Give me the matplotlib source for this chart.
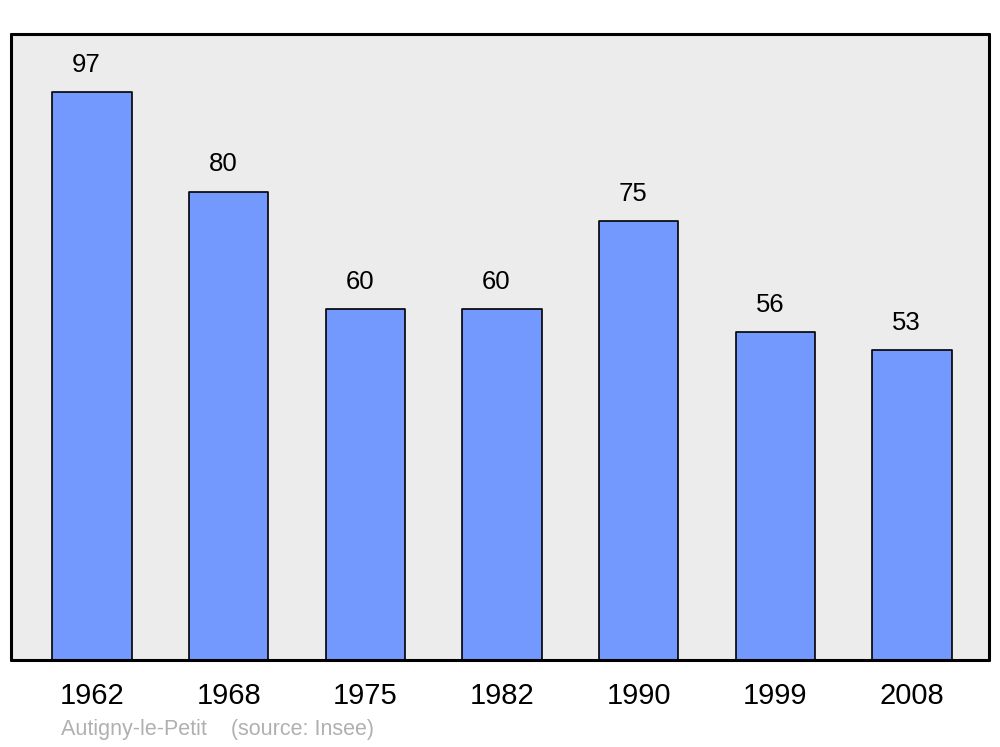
import matplotlib
matplotlib.use("Agg")
from matplotlib import pyplot as plt

plt.rcParams['font.family'] = ['Liberation Sans', 'DejaVu Sans']

years = ['1962', '1968', '1975', '1982', '1990', '1999', '2008']
population = [97, 80, 60, 60, 75, 56, 53]

fig = plt.figure(figsize=(10, 7.47), dpi=100)
# axes box in pixels: x 11..989, y 34..660
ax = fig.add_axes([11 / 1000, 1 - 660 / 747, 978 / 1000, 626 / 747])
ax.set_facecolor('#ececec')

x = range(len(years))
bars = ax.bar(x, population, width=0.58, color='#7399ff', edgecolor='black',
              linewidth=1.2, zorder=2)
for b in bars:
    b.set_joinstyle('round')

for xi, v in zip(x, population):
    ax.annotate(str(v), (xi, v), xytext=(-4, 19.5), textcoords='offset points',
                ha='center', va='center', fontsize=18.5)

ax.set_xlim(-0.593, 6.563)
ax.set_ylim(0, 106.9)
ax.set_xticks(list(x))
ax.set_xticklabels(years, fontsize=21)
ax.tick_params(axis='x', length=0, pad=16)
ax.set_yticks([])
for s in ax.spines.values():
    s.set_linewidth(2.2)
    s.set_joinstyle('round')
    s.set_capstyle('round')

fig.text(61 / 1000, 1 - 730 / 747, 'Autigny-le-Petit    (source: Insee)',
         fontsize=15.5, color='#b0b0b0', ha='left', va='center')

plt.savefig('out.png', dpi=100)
